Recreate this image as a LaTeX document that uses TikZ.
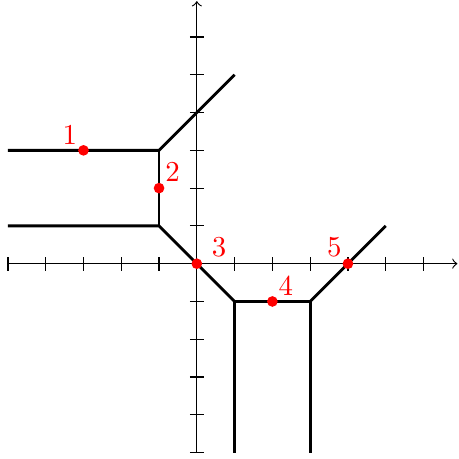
\documentclass[tikz,border=0pt]{standalone}

\newcommand*{\xmin}{-5}
\newcommand*{\xmax}{6.9}
\newcommand*{\ymin}{-5}
\newcommand*{\ymax}{6.95}

\begin{document}
\begin{tikzpicture}
[
	redpt/.style={circle,fill=red,inner sep=0pt,minimum size=3.7pt},
	numlabel/.style={red,inner sep=2pt},
	curve/.style={line width=1pt},
	x=0.46cm,y=0.46cm
]
	\useasboundingbox (-5.21,-5.16) rectangle (6.94,6.98);

	% axes
	\draw[->] (\xmin,0) -- (\xmax,0);
	\draw[->] (0,\ymin) -- (0,\ymax);
	\foreach \x in {-5,...,6}
		\draw (\x,-2.4pt) -- (\x,2.4pt);
	\foreach \y in {-5,...,6}
		\draw (-2.4pt,\y) -- (2.4pt,\y);

	% vertices and ends
	\coordinate (va) at (-1,3);
	\coordinate (vb) at (-1,1);
	\coordinate (vc) at (1,-1);
	\coordinate (vd) at (3,-1);
	\coordinate (ea) at (-5,3);
	\coordinate (eb) at (1,5);
	\coordinate (ec) at (-5,1);
	\coordinate (ed) at (1,-5);
	\coordinate (ee) at (3,-5);
	\coordinate (ef) at (5,1);

	% curve
	\draw[curve] (ea) -- (va) -- (eb);
	\draw[curve] (va) -- (vb);
	\draw[curve] (ec) -- (vb) -- (vc);
	\draw[curve] (vc) -- (ed);
	\draw[curve] (vc) -- (vd);
	\draw[curve] (vd) -- (ee);
	\draw[curve] (vd) -- (ef);

	% points
	\node[redpt] (p1) at (-3,3) {};
	\node[redpt] (p2) at (-1,2) {};
	\node[redpt] (p3) at (0,0) {};
	\node[redpt] (p4) at (2,-1) {};
	\node[redpt] (p5) at (4,0) {};
	\node[numlabel,above left] at (p1.center) {1};
	\node[numlabel,above right] at (p2.center) {2};
	\node[numlabel,above right,xshift=3pt] at (p3.center) {3};
	\node[numlabel,above right] at (p4.center) {4};
	\node[numlabel,above left] at (p5.center) {5};

\end{tikzpicture}
\end{document}
